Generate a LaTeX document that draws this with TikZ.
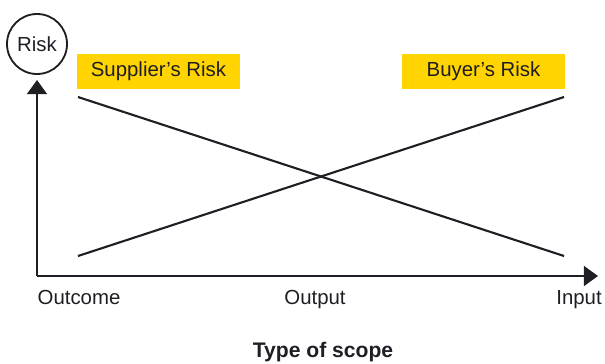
\documentclass[tikz,border=0pt]{standalone}
\usepackage{fontspec}
\setmainfont{Liberation Sans}
\usepackage{tikz}
\usetikzlibrary{arrows.meta,positioning}
\definecolor{riskgold}{HTML}{FFD400}
\definecolor{inkgray}{HTML}{1E1E24}

\begin{document}
\begin{tikzpicture}[
x=0.025cm,y=-0.025cm,
font=\fontsize{14.5}{17}\selectfont,
axis/.style={-{Triangle[width=14pt,length=10pt]},line width=1.8pt,color=inkgray},
riskline/.style={line width=1.5pt,color=inkgray},
riskbox/.style={fill=riskgold,minimum width=163*0.025cm,minimum height=35*0.025cm,inner sep=0pt,text=inkgray},
ticklabel/.style={text=inkgray,anchor=base}]
    \useasboundingbox (0,0) rectangle (605,363);

    % Draw axes
    \coordinate (origin) at (37,276);
    \coordinate (xaxis) at (598,276);
    \coordinate (yaxis) at (37,80);
    \draw[axis] (origin) -- (yaxis);
    \draw[axis] (origin) -- (xaxis);

    \node[draw=inkgray,line width=1.3pt,circle,minimum size=60*0.025cm,inner sep=0pt,text=inkgray] (risk) at (37,44) {Risk};

    % boxes
    \node[riskbox] (supplier) at (158.5,71.5) {Supplier’s Risk};
    \node[riskbox] (buyer) at (483.5,71.5) {Buyer’s Risk};

    \draw
    (78,97) coordinate (S1)
    (564,256) coordinate (S2)
    (78,256) coordinate (B1)
    (564,97) coordinate (B2);

    \draw[riskline] (S1) -- (S2);
    \draw[riskline] (B1) -- (B2);

    \node[ticklabel] (outcome) at (79,304) {Outcome};
    \node[ticklabel] (output) at (315,304) {Output};
    \node[ticklabel] (input) at (579,304) {Input};
    \node[ticklabel,font=\fontsize{15}{18}\selectfont\bfseries] (scope) at (323,357) {Type of scope};

\end{tikzpicture}
\end{document}
